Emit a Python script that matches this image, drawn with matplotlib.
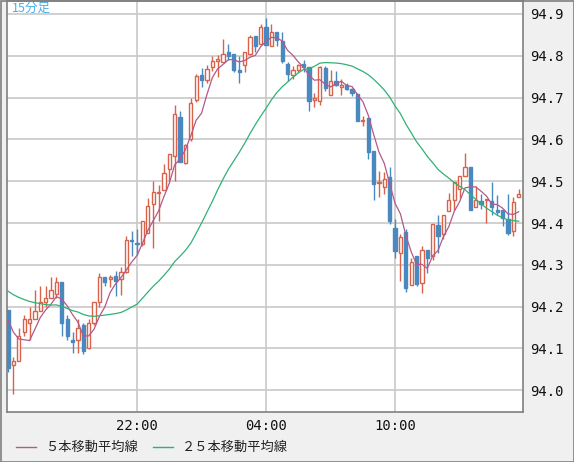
import matplotlib
matplotlib.use("Agg")
import matplotlib.pyplot as plt
from matplotlib.patches import Rectangle
import numpy as np

# 15-minute USD/JPY candles, 16:00 -> 15:45
opens = [94.192, 94.06, 94.07, 94.14, 94.16, 94.17, 94.19, 94.21, 94.22, 94.23,
         94.26, 94.17, 94.12, 94.12, 94.155, 94.10, 94.16, 94.21, 94.27, 94.267,
         94.273, 94.266, 94.284, 94.36, 94.352, 94.35, 94.377, 94.445, 94.472, 94.48,
         94.528, 94.56, 94.653, 94.543, 94.60, 94.695, 94.755, 94.741, 94.772, 94.788,
         94.785, 94.809, 94.805, 94.767, 94.777, 94.805, 94.848, 94.827, 94.869, 94.823,
         94.857, 94.836, 94.78, 94.755, 94.765, 94.78, 94.773, 94.695, 94.693, 94.77,
         94.707, 94.74, 94.725, 94.73, 94.721, 94.709, 94.643, 94.651, 94.573, 94.495,
         94.486, 94.51, 94.388, 94.328, 94.378, 94.252, 94.321, 94.256, 94.336, 94.321,
         94.396, 94.373, 94.429, 94.455, 94.481, 94.513, 94.535, 94.438, 94.453, 94.455,
         94.453, 94.432, 94.431, 94.41, 94.381, 94.462]
highs = [94.19, 94.08, 94.15, 94.18, 94.20, 94.24, 94.25, 94.25, 94.27, 94.27,
         94.26, 94.18, 94.14, 94.17, 94.16, 94.17, 94.21, 94.28, 94.27, 94.275,
         94.286, 94.294, 94.37, 94.38, 94.385, 94.405, 94.46, 94.50, 94.49, 94.54,
         94.565, 94.683, 94.668, 94.59, 94.70, 94.757, 94.77, 94.778, 94.80, 94.803,
         94.84, 94.829, 94.805, 94.80, 94.81, 94.85, 94.848, 94.877, 94.89, 94.875,
         94.857, 94.857, 94.784, 94.776, 94.78, 94.79, 94.773, 94.711, 94.775, 94.775,
         94.766, 94.764, 94.744, 94.735, 94.723, 94.711, 94.655, 94.651, 94.573, 94.525,
         94.523, 94.535, 94.409, 94.373, 94.385, 94.317, 94.321, 94.346, 94.336, 94.397,
         94.418, 94.42, 94.471, 94.497, 94.513, 94.567, 94.535, 94.489, 94.47, 94.456,
         94.499, 94.467, 94.431, 94.47, 94.463, 94.481]
lows = [94.043, 93.99, 94.07, 94.13, 94.12, 94.17, 94.19, 94.20, 94.22, 94.22,
        94.13, 94.12, 94.09, 94.09, 94.087, 94.098, 94.155, 94.20, 94.25, 94.246,
        94.225, 94.228, 94.28, 94.32, 94.324, 94.345, 94.376, 94.34, 94.405, 94.48,
        94.50, 94.50, 94.545, 94.54, 94.595, 94.69, 94.725, 94.735, 94.763, 94.75,
        94.785, 94.79, 94.76, 94.736, 94.76, 94.803, 94.81, 94.827, 94.826, 94.823,
        94.823, 94.783, 94.739, 94.744, 94.76, 94.76, 94.669, 94.677, 94.683, 94.715,
        94.707, 94.728, 94.705, 94.719, 94.703, 94.643, 94.631, 94.553, 94.454, 94.462,
        94.469, 94.397, 94.317, 94.262, 94.234, 94.252, 94.25, 94.232, 94.28, 94.312,
        94.328, 94.361, 94.429, 94.43, 94.46, 94.513, 94.432, 94.438, 94.433, 94.40,
        94.42, 94.42, 94.392, 94.372, 94.37, 94.462]
closes = [94.054, 94.07, 94.13, 94.17, 94.17, 94.19, 94.21, 94.22, 94.24, 94.26,
          94.16, 94.13, 94.115, 94.15, 94.095, 94.16, 94.21, 94.27, 94.26, 94.27,
          94.262, 94.284, 94.36, 94.357, 94.349, 94.405, 94.44, 94.475, 94.475, 94.52,
          94.565, 94.66, 94.545, 94.586, 94.687, 94.752, 94.743, 94.768, 94.788, 94.793,
          94.805, 94.80, 94.767, 94.761, 94.809, 94.845, 94.823, 94.87, 94.826, 94.857,
          94.837, 94.788, 94.757, 94.767, 94.777, 94.772, 94.693, 94.699, 94.773, 94.723,
          94.74, 94.729, 94.731, 94.721, 94.711, 94.643, 94.647, 94.569, 94.493, 94.498,
          94.505, 94.406, 94.334, 94.366, 94.244, 94.306, 94.254, 94.336, 94.316, 94.397,
          94.369, 94.42, 94.455, 94.497, 94.513, 94.535, 94.432, 94.455, 94.445, 94.456,
          94.438, 94.427, 94.412, 94.376, 94.45, 94.47]
# closes before the visible window (needed for the moving averages)
prior_closes = [94.28, 94.29, 94.30, 94.28, 94.27, 94.26, 94.28, 94.27, 94.25, 94.26,
                94.24, 94.25, 94.23, 94.24, 94.25, 94.23, 94.24, 94.22, 94.23, 94.21,
                94.22, 94.21, 94.18, 94.18]

x_ticks = [24, 48, 72]
x_labels = ["22:00", "04:00", "10:00"]
y_ticks = [94.0, 94.1, 94.2, 94.3, 94.4, 94.5, 94.6, 94.7, 94.8, 94.9]

UP = "#d8634a"
DOWN = "#4a88c0"
MA5_C = "#b5588a"
MA25_C = "#2fb274"
GRID = "#c8c8c8"
BG = "#f0f0f0"

allc = np.array(prior_closes + closes)
n_prior = len(prior_closes)
ma5 = np.convolve(allc, np.ones(5) / 5, mode="valid")[n_prior - 4:]
ma25 = np.convolve(allc, np.ones(25) / 25, mode="valid")[n_prior - 24:]

fig = plt.figure(figsize=(5.74, 4.62), dpi=100, facecolor=BG)
ax = fig.add_axes([7 / 574, 50 / 462, 516 / 574, 411 / 462])
ax.set_facecolor("white")

idx = np.arange(len(closes))
w = 0.6
for i in idx:
    o, h, l, c = opens[i], highs[i], lows[i], closes[i]
    if c >= o:
        ax.vlines(i, l, h, color=UP, lw=1, zorder=3)
        ax.add_patch(Rectangle((i - w / 2, o), w, max(c - o, 0.002),
                               facecolor="white", edgecolor=UP, lw=1, zorder=4))
    else:
        ax.vlines(i, l, h, color=DOWN, lw=1, zorder=3)
        ax.add_patch(Rectangle((i - w / 2, c), w, max(o - c, 0.002),
                               facecolor=DOWN, edgecolor=DOWN, lw=1, zorder=4))

ax.plot(idx, ma5, color=MA5_C, lw=0.9, zorder=5)
ax.plot(idx, ma25, color=MA25_C, lw=0.9, zorder=5)

ax.set_xlim(-0.19, 95.8)
ax.set_ylim(93.948, 94.931)
ax.set_yticks(y_ticks)
ax.set_xticks(x_ticks)
ax.yaxis.tick_right()
ax.tick_params(length=0, labelsize=10, pad=5, colors="#111111")
ax.set_yticklabels([f"{v:.1f}" for v in y_ticks], family="DejaVu Sans Mono")
ax.set_xticklabels(x_labels, family="DejaVu Sans Mono")
ax.grid(True, color=GRID, lw=1.2)
ax.set_axisbelow(True)
for s in ax.spines.values():
    s.set_color("#808080")
    s.set_linewidth(1.2)

ax.text(0.01, 0.998, "15分足", transform=ax.transAxes, ha="left", va="top",
        color="#4ab0e8", fontsize=9, family=["Noto Sans CJK JP", "DejaVu Sans"])

# legend strip
fy = 1 - 447 / 462
fig.add_artist(plt.Line2D([16 / 574, 36 / 574], [fy, fy], color=MA5_C, lw=1))
fig.text(45 / 574, fy, "５本移動平均線", va="center", fontsize=9.5,
         family=["Noto Sans CJK JP", "DejaVu Sans"], color="#222222")
fig.add_artist(plt.Line2D([153 / 574, 173 / 574], [fy, fy], color=MA25_C, lw=1))
fig.text(182 / 574, fy, "２５本移動平均線", va="center", fontsize=9.5,
         family=["Noto Sans CJK JP", "DejaVu Sans"], color="#222222")
fig.add_artist(Rectangle((0.5 / 574, 0.5 / 462), 573 / 574, 461 / 462, fill=False,
                         edgecolor="#808080", lw=1.2, transform=fig.transFigure))

fig.savefig("out.png", dpi=100, facecolor=BG)
